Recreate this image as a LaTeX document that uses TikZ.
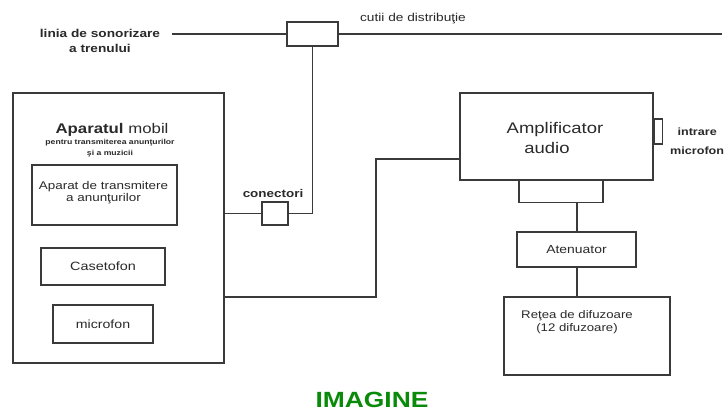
\documentclass[tikz,border=0pt]{standalone}
\usepackage{fontspec}
\setmainfont{Liberation Sans}
\newfontfamily\wide[FakeStretch=1.2]{Liberation Sans}
\definecolor{ln}{HTML}{3A3A3A}
\definecolor{tx}{HTML}{2A2A2A}
\definecolor{imggreen}{HTML}{0A8A0A}
\begin{document}
\begin{tikzpicture}[x=1pt,y=-1pt,
  box/.style={draw=ln,line width=1.3pt,inner sep=0pt},
  wire/.style={draw=ln,line width=1.5pt},
  lbl/.style={text=tx,inner sep=0pt,align=center},
]
\useasboundingbox (0,0) rectangle (726,412);
\fill[white] (0,0) rectangle (726,412);
% top line
\node[lbl,font=\wide\bfseries\fontsize{11.4}{15}\selectfont] (linia) at (100,40.5) {linia de sonorizare\\a trenului};
\node[box,minimum width=51pt,minimum height=24pt] (cutie) at (312.5,34) {};
\coordinate (lend) at (722,34);
\draw[draw=ln,line width=1.8pt] (172,34) -- (cutie.west);
\draw[draw=ln,line width=1.8pt] (cutie.east) -- (lend);
\node[lbl,font=\wide\fontsize{11.4}{13}\selectfont] (cutii) at (413,19) {cutii de distribuţie};
% mobile unit
\node[box,minimum width=211pt,minimum height=270pt] (mobil) at (118.5,228) {};
\node[lbl,font=\wide\fontsize{14}{16}\selectfont] (titlu) at (112,130) {\textbf{Aparatul} mobil};
\node[lbl,font=\wide\bfseries\fontsize{7.2}{11}\selectfont] (sub) at (110,148.5) {pentru transmiterea anunţurilor\\şi a muzicii};
\node[draw=ln,line width=1.8pt,inner sep=0pt,minimum width=145pt,minimum height=60pt] (aparat) at (104.5,195) {};
\node[lbl,font=\wide\fontsize{11.2}{12.5}\selectfont] (aparattxt) at (103.5,192.5) {Aparat de transmitere\\a anunţurilor};
\node[box,line width=1.1pt,minimum width=124pt,minimum height=37pt,font=\wide\fontsize{12}{14}\selectfont,text=tx] (caset) at (103,266.5) {Casetofon};
\node[box,line width=1.1pt,minimum width=100pt,minimum height=38pt,font=\wide\fontsize{11.8}{14}\selectfont,text=tx] (micro) at (103,324) {microfon};
% connector
\node[box,line width=1.1pt,minimum width=26pt,minimum height=23pt] (conn) at (275,213.5) {};
\node[lbl,font=\wide\bfseries\fontsize{11.2}{13}\selectfont] (conntxt) at (273,193) {conectori};
\draw[wire] (mobil.east |- conn.west) -- (conn.west);
\draw[wire] (conn.east) -| (cutie.south);
% amplifier
\node[box,minimum width=193pt,minimum height=87pt] (amp) at (556.5,136.5) {};
\node[lbl,font=\wide\fontsize{15.4}{17}\selectfont] (amptxt1) at (555,130) {Amplificator};
\node[lbl,font=\wide\fontsize{15.4}{17}\selectfont] (amptxt2) at (547,148) {audio};
\node[box,line width=1.1pt,minimum width=8pt,minimum height=25pt,anchor=west] (tab) at (amp.east |- 0,131.5) {};
\node[lbl,font=\wide\bfseries\fontsize{10.5}{19}\selectfont,anchor=west] (intr) at (670,141.5) {intrare\\microfon};
\draw[wire] (mobil.east |- 0,297) -- (376,297) -- (376,159) -- (amp.west |- 0,159);
% chain below amp
\node[box,line width=1.1pt,minimum width=84pt,minimum height=22pt,anchor=north] (sub1) at (561,180) {};
\node[box,line width=1.1pt,minimum width=119pt,minimum height=35pt,font=\wide\fontsize{11.6}{14}\selectfont,text=tx] (aten) at (576.5,249.5) {Atenuator};
\node[box,line width=1.1pt,minimum width=166pt,minimum height=78pt] (retea) at (587,336) {};
\node[lbl,font=\wide\fontsize{11}{12.5}\selectfont] (reteatxt) at (577,322) {Reţea de difuzoare\\(12 difuzoare)};
\draw[wire,line width=1.1pt] (577,202) -- (aten.north -| 577,0);
\draw[wire,line width=1.1pt] (aten.south -| 577,0) -- (retea.north -| 577,0);
% caption
\node[lbl,font=\wide\bfseries\fontsize{22}{24}\selectfont,text=imggreen] (imagine) at (372,400) {IMAGINE};
\end{tikzpicture}
\end{document}
